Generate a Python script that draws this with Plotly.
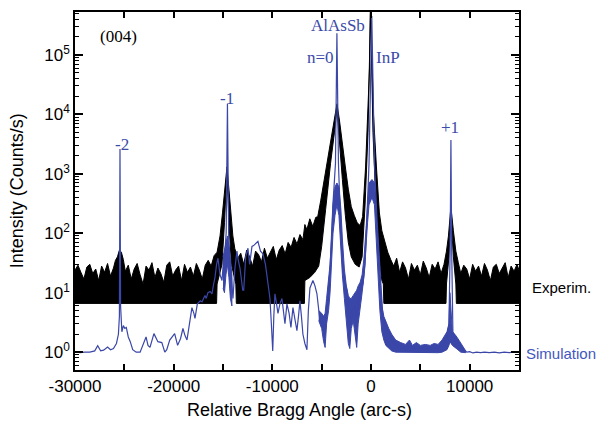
import plotly.graph_objects as go

# ---------------- data ----------------
# Experimental: noisy band, upper and lower envelopes
exp_hi_x = [-30000, -29700, -29400, -29100, -28800, -28500, -28200, -27900, -27600, -27300,
            -27000, -26700, -26400, -26100, -25900, -25700, -25500, -25300, -25100, -24900,
            -24600, -24300, -24000, -23700, -23400, -23100, -22800, -22500, -22200, -21900,
            -21600, -21300, -21000, -20700, -20400, -20100, -19800, -19500, -19200, -18900,
            -18600, -18300, -18000, -17700, -17400, -17100, -16800, -16500, -16200, -15900,
            -15600, -15300, -15050, -14850, -14600, -14400, -14200, -14000, -13800, -13500,
            -13200, -12900, -12600, -12300, -12000, -11700, -11400, -11100, -10800, -10500,
            -10200, -9900, -9600, -9300, -9000, -8700, -8400, -8100, -7800, -7500,
            -7200, -6900, -6700, -6500, -6200, -5900, -5600, -5400, -5100, -4800,
            -4400, -4000, -3700, -3450, -3200, -2900, -2600, -2300, -2000, -1700,
            -1400, -1100, -850, -550, -300, -150, -50, 100, 250, 550,
            850, 1100, 1400, 1700, 2000, 2300, 2600, 2900, 3200, 3500,
            3800, 4100, 4400, 4700, 5000, 5300, 5600, 5900, 6200, 6500,
            6800, 7100, 7400, 7650, 7850, 8100, 8350, 8600, 8850, 9100,
            9400, 9700, 10000, 10300, 10600, 10900, 11200, 11500, 11800, 12100,
            12400, 12700, 13000, 13300, 13600, 13900, 14200, 14500, 14800, 15000]
exp_hi = [24, 29, 22, 17, 27, 30, 21, 25, 16, 28,
          22, 31, 19, 26, 35, 40, 52, 48, 36, 23,
          29, 17, 25, 31, 20, 14, 28, 24, 32, 18,
          26, 21, 15, 29, 33, 19, 24, 28, 16, 30,
          22, 27, 19, 31, 24, 17, 29, 35, 28, 42,
          48, 90, 220, 550, 1300, 550, 200, 90, 55, 38,
          46, 30, 52, 40, 28, 50, 44, 33, 56, 38,
          48, 60, 36, 52, 62, 45, 70, 58, 85, 66,
          95, 78, 140, 115, 175, 130, 185, 190, 350, 700,
          1600, 4200, 9000, 15000, 8000, 3000, 1300, 550, 280, 200,
          150, 135, 190, 1300, 10000, 60000, 800000, 60000, 10000, 1300,
          220, 110, 70, 48, 36, 28, 38, 22, 33, 26,
          17, 31, 24, 29, 20, 34, 26, 18, 30, 25,
          33, 21, 30, 50, 90, 280, 110, 50, 32, 21,
          29, 25, 17, 30, 23, 28, 19, 31, 24, 16,
          27, 30, 21, 26, 32, 18, 28, 23, 30, 24]
exp_lo_x = [-30000, -15650, -15600, -15100, -14850, -14600, -14400, -14150, -13700, -13650,
            -6750, -6700, -6200, -5700, -5300, -5000, -4600, -4100, -3700, -3450,
            -3200, -2900, -2600, -2300, -2000, -1600, -1200, -900, -600, -300,
            -50, 200, 500, 800, 1100, 1250, 1300, 7600, 7650, 7900,
            8100, 8350, 8600, 8650, 15000]
exp_lo = [6.6, 6.6, 14, 30, 150, 1100, 150, 30, 14, 6.6,
          6.6, 16, 18, 22, 28, 60, 250, 1500, 5000, 12000,
          4000, 800, 200, 70, 40, 30, 27, 40, 300, 5000,
          600000, 5000, 300, 40, 16, 14, 6.6, 6.6, 14, 40,
          200, 40, 14, 6.6, 6.6]

# Simulation: main curve
sim_x = [-30000, -29500, -29000, -28500, -28000, -27700, -27400, -27100, -26700, -26400,
         -26100, -25800, -25600, -25500, -25440, -25380, -25250, -25100, -24950, -24800,
         -24600, -24400, -24150, -23800, -23400, -23100, -22800, -22600, -22400, -22000,
         -21600, -21200, -20900, -20700, -20400, -19900, -19600, -19300, -19060, -18850,
         -18650, -18400, -18150, -17950, -17840, -17600, -17300, -17130, -16830, -16700,
         -16525, -16300, -16120, -15950, -15815, -15650, -15510, -15300, -15100, -14950,
         -14800, -14680, -14550, -14420, -14300, -14150, -13990, -13800, -13590, -13450,
         -13280, -13000, -12900, -12700, -12470, -12300, -12065, -11900, -11760, -11460,
         -11200, -10950, -10700, -10545, -10350, -10240, -10100, -9960, -9850, -9736,
         -9600, -9430, -9230, -9026, -8880, -8722, -8520, -8300, -8115, -7910,
         -7700, -7507, -7350, -7200, -7050, -6900, -6700, -6494, -6350, -6190,
         -5886, -5680, -5480, -5300, -5177, -4900, -4650, -4400, -4164, -3860,
         -3600, -3455, -3300, -3150, -2846, -2600, -2440, -2300, -2137, -1900,
         -1700, -1428, -1250, -1124, -950, -820, -600, -415, -200, 80,
         350, 600, 800, 1000, 1200, 1500, 1715, 1916, 2220, 2625,
         3000, 3500, 3900, 4300, 4700, 5100, 5500, 5900, 6300, 6700,
         7100, 7400, 7700, 7900, 8020, 8100, 8180, 8300, 8500, 8800,
         9100, 9400, 9720, 10000, 10330, 10700, 11100, 11500, 12000, 12500,
         13000, 13500, 14000, 14500, 15000]
sim_y = [1.02, 0.98, 1.0, 1.0, 1.05, 1.28, 1.05, 1.08, 1.22, 1.1,
         1.15, 1.4, 2.0, 4.0, 2600, 6.0, 2.2, 2.8, 2.5, 2.6,
         1.8, 1.5, 1.1, 1.0, 1.0, 1.3, 1.8, 1.3, 1.2, 2.05,
         1.5, 1.45, 1.0, 1.1, 1.6, 2.05, 1.3, 1.7, 2.5, 1.9,
         1.6, 3.0, 5.6, 4.5, 3.7, 6.5, 7.3, 7.0, 9.0, 8.0,
         10, 10.5, 9.5, 14, 18, 30, 38, 20, 16, 35,
         50, 100, 15000, 80, 40, 15, 8, 25, 50, 35,
         26, 11, 11, 40, 56, 30, 60, 62, 65, 73,
         50, 45, 30, 18, 12, 8, 3, 1.05, 4, 9.6,
         7, 4.5, 6.5, 8, 5, 3, 6.5, 4.5, 2.6, 5.6,
         3.5, 2.3, 4, 7.3, 4, 2, 1.4, 1.1, 5, 12,
         16, 13, 9.6, 5, 3.4, 3.0, 2.0, 8, 23, 300,
         1500, 230000, 1500, 300, 23, 14, 11, 5, 3, 5,
         6, 4, 8, 12, 12, 14, 30, 180, 1500, 450000,
         1500, 180, 40, 14, 4, 2.8, 2.3, 2.0, 1.5, 1.3,
         1.2, 1.15, 1.3, 1.15, 1.2, 1.15, 1.2, 1.15, 1.2, 1.15,
         1.3, 1.4, 1.8, 3, 50, 3700, 50, 2.2, 1.8, 1.5,
         1.3, 1.1, 1.0, 1.02, 0.97, 1.0, 0.98, 1.0, 0.98, 1.0,
         0.97, 1.0, 0.98, 1.0, 1.0]

# Simulation: thick (fast-oscillating) parts, lower / upper envelopes
simb1_x = [-15000, -14850, -14700, -14550, -14400, -14250, -14100]
simb1_lo = [12, 10, 20, 30, 18, 8, 6]
simb1_hi = [40, 55, 70, 90, 60, 35, 20]
simb2_x = [-5300, -5000, -4800, -4650, -4500, -4300, -4150, -4000, -3850, -3650,
           -3455, -3250, -3050, -2900, -2700, -2500, -2300, -2150, -2000, -1800,
           -1600, -1450, -1300, -1100, -900, -700, -500, -350, -200, 100,
           350, 500, 700, 900, 1100, 1300, 1500, 1800, 2100, 2500,
           3000, 3500, 3900, 4200, 4600, 5000, 5500, 6000, 6400, 6800,
           7200, 7500, 7700, 7900, 8000, 8250, 8500, 8800, 9100, 9400, 9600]
simb2_lo = [3.4, 2.5, 1.5, 1.2, 3, 5, 10, 25, 100, 200,
            300, 200, 60, 20, 8, 3, 1.4, 1.15, 2.5, 3.4,
            2, 1.2, 3, 6, 10, 20, 60, 150, 300, 400,
            300, 80, 20, 5, 2.2, 1.6, 1.3, 1.15, 1.05, 1.0,
            0.98, 0.98, 1.0, 0.98, 0.98, 0.98, 0.98, 0.98, 0.98, 0.98,
            1.0, 1.05, 1.1, 1.3, 1.5, 1.3, 1.2, 1.1, 1.0, 0.98, 0.98]
simb2_hi = [5, 4.5, 4, 4.5, 8, 15, 30, 80, 300, 600,
            700, 600, 250, 80, 25, 13, 9, 8, 8, 9,
            10, 11, 13, 15, 20, 40, 120, 350, 700, 800,
            700, 250, 80, 20, 6, 4, 3.2, 2.5, 2.0, 1.6,
            1.45, 1.35, 1.6, 1.3, 1.45, 1.3, 1.35, 1.3, 1.4, 1.35,
            1.6, 1.9, 2.2, 3.0, 10, 2.2, 2.0, 1.7, 1.4, 1.15, 1.05]

# Axis ticks
x_tickvals = [-30000, -25000, -20000, -15000, -10000, -5000, 0, 5000, 10000, 15000]
x_ticktext = ['-30000', '', '-20000', '', '-10000', '', '0', '', '10000', '']
y_tickvals = [1, 10, 100, 1000, 10000, 100000]
y_ticktext = ['10<sup>0</sup>', '10<sup>1</sup>', '10<sup>2</sup>', '10<sup>3</sup>',
              '10<sup>4</sup>', '10<sup>5</sup>']
y_minor = [m * 10 ** e for e in range(-1, 6) for m in range(2, 10)]

# Peak labels: (text, x, log10 y)
peak_labels = [('(004)', -25600, 5.30, 'black'),
               ('AlAsSb', -3350, 5.50, '#3a4aa8'),
               ('n=0', -5150, 4.95, '#3a4aa8'),
               ('InP', 1700, 4.95, '#3a4aa8'),
               ('-1', -14600, 4.27, '#3a4aa8'),
               ('-2', -25250, 3.50, '#3a4aa8'),
               ('+1', 8000, 3.77, '#3a4aa8')]

BLUE = '#3a46a8'

# ---------------- figure ----------------
fig = go.Figure()

# experimental band (polygon: upper edge, then lower edge reversed)
fig.add_trace(go.Scatter(
    x=exp_hi_x + exp_lo_x[::-1], y=exp_hi + exp_lo[::-1],
    mode='lines', fill='toself', fillcolor='black',
    line=dict(color='black', width=1), hoverinfo='skip', showlegend=False))

for bx, blo, bhi in [(simb1_x, simb1_lo, simb1_hi), (simb2_x, simb2_lo, simb2_hi)]:
    fig.add_trace(go.Scatter(
        x=bx + bx[::-1], y=bhi + blo[::-1],
        mode='lines', fill='toself', fillcolor=BLUE,
        line=dict(color=BLUE, width=1), hoverinfo='skip', showlegend=False))

fig.add_trace(go.Scatter(x=sim_x, y=sim_y, mode='lines',
                         line=dict(color=BLUE, width=1.2), showlegend=False))

annotations = []
for txt, ax_, ay_, col in peak_labels:
    annotations.append(dict(x=ax_, y=ay_, xref='x', yref='y', text=txt, showarrow=False,
                            font=dict(family='Liberation Serif', size=17, color=col),
                            xanchor='center', yanchor='middle'))
annotations += [
    dict(x=1.025, y=0.231, xref='paper', yref='paper', text='Experim.', showarrow=False,
         xanchor='left', yanchor='middle',
         font=dict(family='Liberation Sans', size=15, color='black')),
    dict(x=1.011, y=0.047, xref='paper', yref='paper', text='Simulation', showarrow=False,
         xanchor='left', yanchor='middle',
         font=dict(family='Liberation Sans', size=15, color='#4457c0')),
    dict(x=0.505, y=-0.112, xref='paper', yref='paper', text='Relative Bragg Angle (arc-s)',
         showarrow=False, xanchor='center', yanchor='middle',
         font=dict(family='Liberation Sans', size=18, color='black')),
    dict(x=-0.13, y=0.5, xref='paper', yref='paper', text='Intensity (Counts/s)',
         showarrow=False, xanchor='center', yanchor='middle', textangle=-90,
         font=dict(family='Liberation Sans', size=18, color='black')),
]

fig.update_layout(
    width=604, height=428,
    margin=dict(l=75, r=85, t=10, b=58),
    paper_bgcolor='white', plot_bgcolor='white',
    annotations=annotations,
    xaxis=dict(range=[-30000, 15000], tickmode='array', tickvals=x_tickvals,
               ticktext=x_ticktext, ticks='inside', ticklen=6, tickwidth=1.5,
               tickcolor='black', showline=True, linecolor='black', linewidth=1.5,
               mirror='allticks', showgrid=False, zeroline=False,
               tickfont=dict(family='Liberation Sans', size=17, color='black')),
    yaxis=dict(type='log', range=[-0.3, 5.72], tickmode='array', tickvals=y_tickvals,
               ticktext=y_ticktext, ticks='inside', ticklen=8, tickwidth=1.5,
               tickcolor='black', showline=True, linecolor='black', linewidth=1.5,
               mirror='allticks', showgrid=False, zeroline=False,
               tickfont=dict(family='Liberation Sans', size=17, color='black'),
               minor=dict(tickmode='array', tickvals=y_minor, ticks='inside',
                          ticklen=4, tickwidth=1, tickcolor='black', showgrid=False)),
)

fig.write_html('out.html')
